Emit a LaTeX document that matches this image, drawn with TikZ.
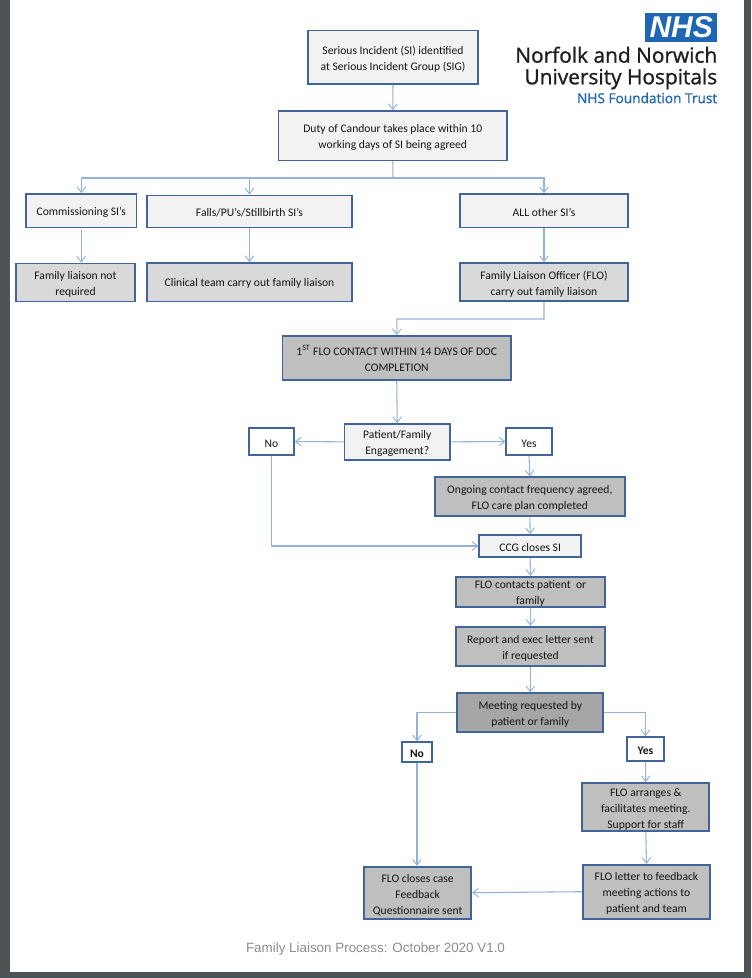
\documentclass[tikz,border=0pt]{standalone}
\usepackage{fontspec}
\setmainfont{Carlito}
\newfontfamily\logofont[FakeBold=1.1]{Open Sans}
\newfontfamily\footfont{Liberation Sans}
\usetikzlibrary{arrows.meta}
\definecolor{edgeblue}{HTML}{41659A}
\definecolor{linkblue}{HTML}{93B3DD}
\definecolor{nhsblue}{HTML}{1F66B5}
\definecolor{frameGrey}{HTML}{4E5356}
\newcommand{\lowerlines}{\rule{0pt}{9.2pt}}
\tikzset{
  boxbase/.style={draw=edgeblue,line width=1.3pt,align=center,inner sep=0pt,text=black!92,
    font=\fontsize{8.7}{12}\selectfont,execute at begin node={\rule{0pt}{8.5pt}}},
  palebox/.style={boxbase,fill=black!5},
  lightbox/.style={boxbase,fill=black!15},
  midbox/.style={boxbase,fill=black!25},
  darkbox/.style={boxbase,fill=black!35},
  plainbox/.style={boxbase,fill=white},
  link/.style={draw=linkblue,line width=.8pt,-{Straight Barb[length=4.2pt,width=6.5pt,line width=.7pt]}},
  linkplain/.style={draw=linkblue,line width=.8pt},
}
\newcommand{\flowbox}[7]{%
  \pgfmathsetmacro{\bxw}{(#5-#3)*.75}\pgfmathsetmacro{\bxh}{(#6-#4)*.75}%
  \pgfmathsetmacro{\bxx}{(#3+#5)/2}\pgfmathsetmacro{\bxy}{(#4+#6)/2}%
  \node[#2,minimum width=\bxw pt,minimum height=\bxh pt] (#1) at (\bxx,\bxy) {#7};%
}
\begin{document}
\begin{tikzpicture}[x=.75pt,y=-.75pt]
\useasboundingbox (0,0) rectangle (751,978);
\fill[frameGrey] (0,0) rectangle (751,978);
\fill[white] (10,-1) rectangle (744,972);

\flowbox{SI}{palebox}{308}{30.5}{478}{84}{\lowerlines Serious Incident (SI) identified\\at Serious Incident Group (SIG)}
\flowbox{DoC}{palebox}{278.5}{111}{507}{160.5}{\lowerlines Duty of Candour takes place within 10\\working days of SI being agreed}
\flowbox{Comm}{palebox}{26}{194}{136.5}{227.5}{Commissioning SI’s}
\flowbox{Falls}{palebox}{147}{195.5}{352}{227.5}{Falls/PU’s/Stillbirth SI’s}
\flowbox{All}{palebox}{460}{194}{628}{227.5}{ALL other SI’s}
\flowbox{NotReq}{lightbox}{16}{263.5}{135}{301.5}{\lowerlines Family liaison not\\required}
\flowbox{Clin}{lightbox}{147}{263}{352}{301.5}{Clinical team carry out family liaison}
\flowbox{FLO}{lightbox}{460}{263}{628}{301}{\lowerlines Family Liaison Officer (FLO)\\carry out family liaison}
\flowbox{First}{midbox}{282.5}{336}{511}{380}{1\textsuperscript{ST} FLO CONTACT WITHIN 14 DAYS OF DOC\\COMPLETION}
\flowbox{Engage}{palebox}{344.5}{424}{450}{459.7}{\lowerlines Patient/Family\\Engagement?}
\flowbox{NoA}{plainbox}{249}{428}{294}{455}{No}
\flowbox{YesA}{plainbox}{506.3}{428}{551.7}{455}{Yes}
\flowbox{Ongoing}{midbox}{434.7}{477.3}{625}{516}{\lowerlines Ongoing contact frequency agreed,\\FLO care plan completed}
\flowbox{CCG}{palebox}{479.3}{535}{581}{557}{CCG closes SI}
\flowbox{Contacts}{midbox}{455.7}{577.7}{605.3}{605.7}{\lowerlines FLO contacts patient\ \ or\\family}
\flowbox{Report}{midbox}{455.7}{626.7}{605.3}{666}{\lowerlines Report and exec letter sent\\if requested}
\flowbox{Meeting}{darkbox}{457.3}{693.3}{603.3}{732}{\lowerlines Meeting requested by\\patient or family}
\flowbox{NoB}{plainbox}{402}{742.3}{432}{761.7}{\textbf{No}}
\flowbox{YesB}{plainbox}{627.3}{737}{663.7}{761.3}{\textbf{Yes}}
\flowbox{Arranges}{midbox}{582.3}{783}{709.3}{831}{\lowerlines FLO arranges \&\\facilitates meeting.\\Support for staff}
\flowbox{Letter}{midbox}{583}{864.7}{710}{918.7}{\lowerlines FLO letter to feedback\\meeting actions to\\patient and team}
\flowbox{Closes}{midbox}{364}{866.7}{471.3}{918.7}{\lowerlines FLO closes case\\Feedback\\Questionnaire sent}

\coordinate (branch) at (393,178);
\coordinate (bend) at (397,319);
\draw[link] (SI.south) -- (DoC.north);
\draw[linkplain] (DoC.south) -- (branch);
\draw[link] (branch) -| (Comm.north);
\draw[link] (branch) -| (Falls.north);
\draw[link] (branch) -| (All.north);
\draw[link] ([yshift=-1.5pt]Comm.south) -- (Comm.south |- NotReq.north);
\draw[link] (Falls.south) -- (Clin.north);
\draw[link] (All.south) -- (FLO.north);
\draw[link] (FLO.south) |- (bend) -- (First.north);
\draw[link] (First.south) -- (Engage.north);
\draw[link] (Engage.west) -- (NoA.east);
\draw[link] (Engage.east) -- (YesA.west);
\draw[link] (YesA.south) -- (Ongoing.north);
\draw[link] (Ongoing.south) -- (CCG.north);
\draw[link] (NoA.south) |- (CCG.west);
\draw[link] (CCG.south) -- (Contacts.north);
\draw[link] (Contacts.south) -- (Report.north);
\draw[link] (Report.south) -- (Meeting.north);
\draw[link] (Meeting.west) -| (NoB.north);
\draw[link] (Meeting.east) -| (YesB.north);
\draw[link] (NoB.south) -- (Closes.north -| NoB.south);
\draw[link] (YesB.south) -- (Arranges.north);
\draw[link] (Arranges.south) -- (Letter.north);
\draw[link] (Letter.west) -- (Closes.east);

\node[fill=nhsblue,text=white,minimum width=54.2pt,minimum height=21.75pt,inner sep=0pt,
  font=\footfont\fontsize{22.5}{22.5}\selectfont\bfseries\itshape] (NHSlogo) at (681.2,27.5) {NHS};
\node[anchor=east,inner sep=0pt,text=black!88,align=right,
  font=\logofont\fontsize{15.65}{16.2}\selectfont] (TrustName) at (717.5,68)
  {Norfolk and Norwich\\University Hospitals};
\node[anchor=east,inner sep=0pt,text=nhsblue,
  font=\logofont\fontsize{10.25}{10}\selectfont] (TrustSub) at (717.5,98) {NHS Foundation Trust};
\node[inner sep=0pt,text=black!45,font=\footfont\fontsize{10.05}{12}\selectfont] (Footer) at (375.5,949)
  {Family Liaison Process: October 2020 V1.0};
\end{tikzpicture}
\end{document}
